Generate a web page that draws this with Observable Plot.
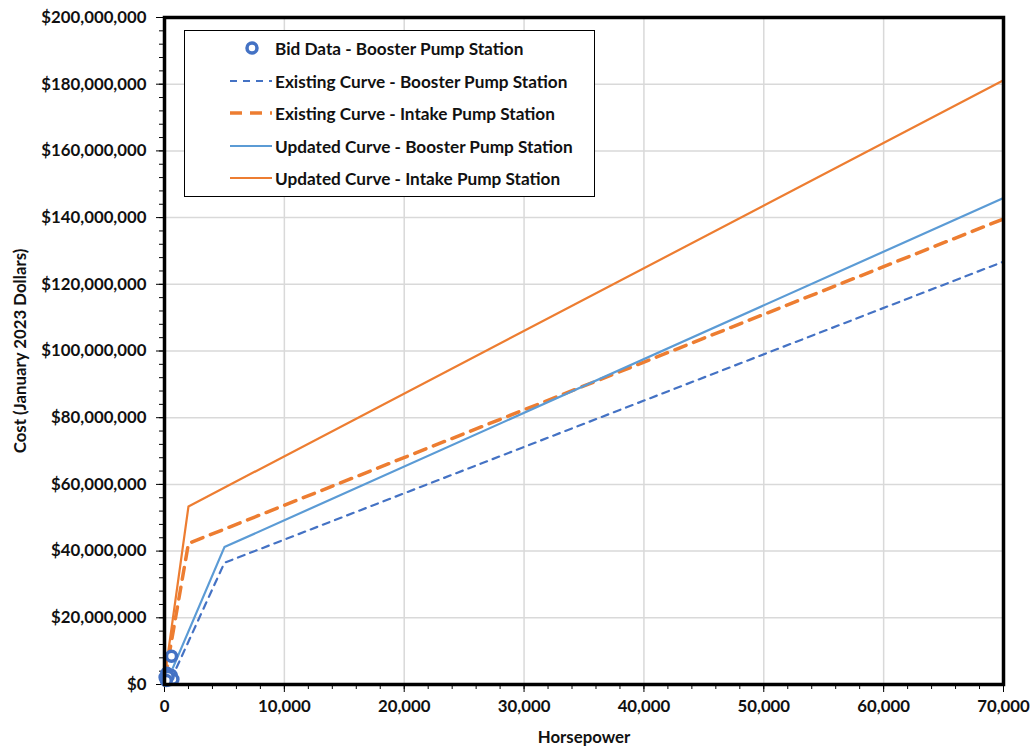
<!DOCTYPE html>
<html>
<head>
<meta charset="utf-8">
<script src="https://cdn.jsdelivr.net/npm/d3@7"></script>
<script src="https://cdn.jsdelivr.net/npm/@observablehq/plot@0.6"></script>
<style>
  html, body { margin: 0; padding: 0; background: #fff; }
  #wrap { position: relative; width: 1036px; height: 748px; font-family: Lato, "Open Sans", sans-serif; }
  #legend { position: absolute; left: 184px; top: 30px; width: 409px; height: 165px; background: #fff; border: 1px solid #000; }
  #legend .row { position: absolute; left: 0; height: 24px; display: flex; align-items: center; }
  #legend .row svg { width: 90px; height: 24px; }
  #legend .row span { font-weight: bold; font-size: 17.2px; color: #111; margin-left: 0px; }
</style>
</head>
<body>
<div id="wrap"></div>
<script>
// ---- Data ----
const bidHP   = [585, 50, 200, 400, 550, 700, 300, 150];
const bidCost = [8.5e6, 2.2e6, 3.4e6, 1.4e6, 2.8e6, 1.6e6, 2.4e6, 1.2e6];

const existBoosterHP   = [1000, 5000, 70000];
const existBoosterCost = [5.0e6, 36.5e6, 126.8e6];

const existIntakeHP   = [50, 2000, 70000];
const existIntakeCost = [2.0e6, 42.3e6, 139.6e6];

const updBoosterHP   = [700, 5000, 70000];
const updBoosterCost = [5.0e6, 41.2e6, 145.9e6];

const updIntakeHP   = [50, 2000, 70000];
const updIntakeCost = [3.0e6, 53.4e6, 181.2e6];

const xMajor = [0, 10000, 20000, 30000, 40000, 50000, 60000, 70000];
const yMajor = [0, 20e6, 40e6, 60e6, 80e6, 100e6, 120e6, 140e6, 160e6, 180e6, 200e6];

const seriesNames = [
  "Bid Data - Booster Pump Station",
  "Existing Curve - Booster Pump Station",
  "Existing Curve - Intake Pump Station",
  "Updated Curve - Booster Pump Station",
  "Updated Curve - Intake Pump Station"
];

const toRows = (xs, ys) => xs.map((x, i) => ({x, y: ys[i]}));
const bid = toRows(bidHP, bidCost);
const exB = toRows(existBoosterHP, existBoosterCost);
const exI = toRows(existIntakeHP, existIntakeCost);
const upB = toRows(updBoosterHP, updBoosterCost);
const upI = toRows(updIntakeHP, updIntakeCost);

const xMinor = d3.range(0, 70001, 2000);
const yMinor = d3.range(0, 200e6 + 1, 4e6);

const C_ORANGE = "#ED7D31", C_LBLUE = "#5B9BD5", C_DBLUE = "#4472C4";
const fmtY = d => "$" + d3.format(",")(d);

const chart = Plot.plot({
  width: 1036,
  height: 748,
  marginLeft: 164,
  marginRight: 33,
  marginTop: 17,
  marginBottom: 64,
  style: { fontFamily: "Lato, 'Open Sans', sans-serif", fontSize: "16.5px", fontWeight: "bold", color: "#111", background: "#fff" },
  x: { domain: [0, 70000] },
  y: { domain: [0, 200e6] },
  marks: [
    Plot.gridX(xMajor, { stroke: "#d9d9d9", strokeOpacity: 1, strokeWidth: 1.5 }),
    Plot.gridY(yMajor, { stroke: "#d9d9d9", strokeOpacity: 1, strokeWidth: 1.5 }),
    Plot.axisX(xMinor, { tickSize: 5, tickWidth: 2.5, stroke: "#000", text: null, label: null }),
    Plot.axisY(yMinor, { tickSize: 5, tickWidth: 2.5, stroke: "#000", text: null, label: null }),
    Plot.axisX(xMajor, { tickSize: 8, tickWidth: 2.5, stroke: "#000", tickPadding: 8, tickFormat: d3.format(","), fontSize: 16.8,
      label: "Horsepower", labelAnchor: "center", labelArrow: "none", labelOffset: 58 }),
    Plot.axisY(yMajor, { tickSize: 8, tickWidth: 2.5, stroke: "#000", tickPadding: 10, tickFormat: fmtY, fontSize: 16.8,
      label: "Cost (January 2023 Dollars)", labelAnchor: "center", labelArrow: "none", labelOffset: 150 }),
    Plot.line(exB, { x: "x", y: "y", stroke: C_DBLUE, strokeWidth: 2.2, strokeDasharray: "7,6" }),
    Plot.line(exI, { x: "x", y: "y", stroke: C_ORANGE, strokeWidth: 3.5, strokeDasharray: "12,8" }),
    Plot.line(upB, { x: "x", y: "y", stroke: C_LBLUE, strokeWidth: 2.2 }),
    Plot.line(upI, { x: "x", y: "y", stroke: C_ORANGE, strokeWidth: 2.2 }),
    Plot.dot(bid, { x: "x", y: "y", r: 5, stroke: C_DBLUE, strokeWidth: 3.5, fill: "#fff" }),
    Plot.frame({ stroke: "#000", strokeWidth: 3.5 })
  ]
});

const wrap = document.getElementById("wrap");
wrap.appendChild(chart);

// ---- Legend ----
const legend = document.createElement("div");
legend.id = "legend";
const rowsY = [5, 38, 70, 103, 135];
const swatches = [
  `<circle cx="67" cy="12" r="5" fill="#fff" stroke="${C_DBLUE}" stroke-width="3.5"/>`,
  `<line x1="45" x2="87" y1="12" y2="12" stroke="${C_DBLUE}" stroke-width="2.2" stroke-dasharray="7,6"/>`,
  `<line x1="45" x2="87" y1="12" y2="12" stroke="${C_ORANGE}" stroke-width="3.5" stroke-dasharray="12,8"/>`,
  `<line x1="45" x2="87" y1="12" y2="12" stroke="${C_LBLUE}" stroke-width="2.2"/>`,
  `<line x1="45" x2="87" y1="12" y2="12" stroke="${C_ORANGE}" stroke-width="2.2"/>`
];
seriesNames.forEach((name, i) => {
  const row = document.createElement("div");
  row.className = "row";
  row.style.top = rowsY[i] + "px";
  row.innerHTML = `<svg>${swatches[i]}</svg><span>${name}</span>`;
  legend.appendChild(row);
});
wrap.appendChild(legend);
</script>
</body>
</html>
